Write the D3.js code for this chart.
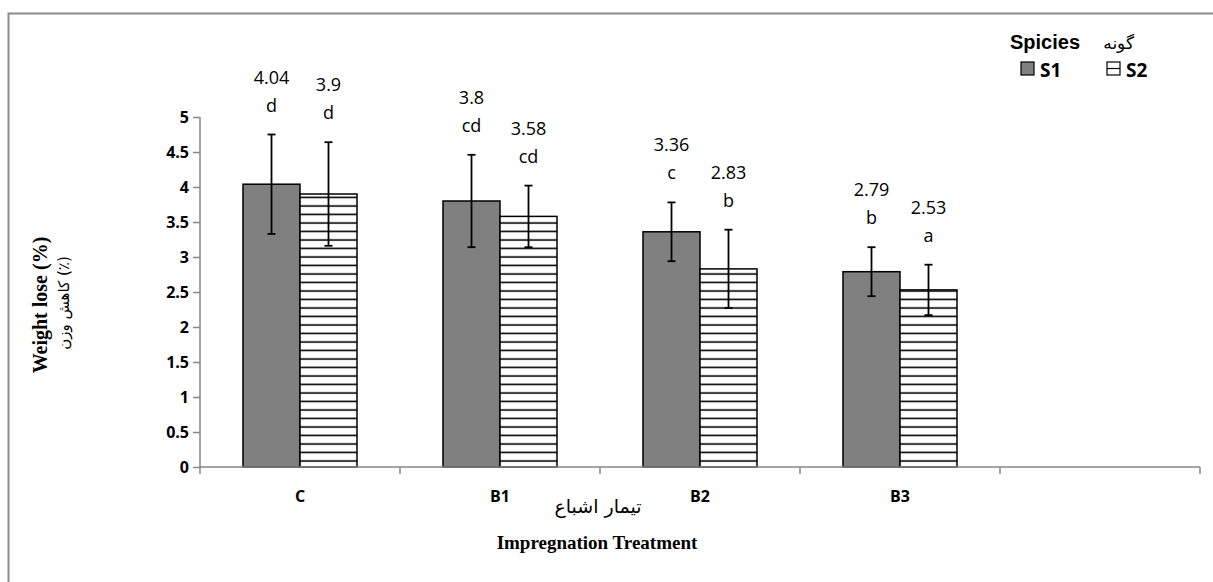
<!DOCTYPE html>
<html>
<head>
<meta charset="utf-8">
<script src="https://cdn.jsdelivr.net/npm/d3@7"></script>
<style>
  body { margin: 0; background: #fff; }
  svg { display: block; }
</style>
</head>
<body>
<div id="chart"></div>
<script>
var categories = ["C", "B1", "B2", "B3", ""];
var seriesNames = ["S1", "S2"];
var s1Values = [4.04, 3.8, 3.36, 2.79];
var s2Values = [3.9, 3.58, 2.83, 2.53];
var s1Errors = [0.71, 0.66, 0.42, 0.35];
var s2Errors = [0.74, 0.44, 0.56, 0.36];
var s1Letters = ["d", "cd", "c", "b"];
var s2Letters = ["d", "cd", "b", "a"];
var yTicks = [0, 0.5, 1, 1.5, 2, 2.5, 3, 3.5, 4, 4.5, 5];

var W = 1213, H = 582;
var margin = {top: 117, right: 13, bottom: 115, left: 200};
var width = W - margin.left - margin.right;
var height = H - margin.top - margin.bottom;

var svg = d3.select("#chart").append("svg")
    .attr("width", W)
    .attr("height", H);

// pattern for S2 (horizontal stripes)
var defs = svg.append("defs");
var pat = defs.append("pattern")
    .attr("id", "hstripe")
    .attr("patternUnits", "userSpaceOnUse")
    .attr("width", 10)
    .attr("height", 8.5);
pat.append("rect").attr("width", 10).attr("height", 8.5).attr("fill", "#fff");
pat.append("line")
    .attr("x1", 0).attr("x2", 10)
    .attr("y1", 4).attr("y2", 4)
    .attr("stroke", "#000")
    .attr("stroke-width", 1.6);

// outer frame
svg.append("rect")
    .attr("x", 8.5).attr("y", 13.5)
    .attr("width", 1400).attr("height", 800)
    .attr("fill", "none")
    .attr("stroke", "#8c8c8c")
    .attr("stroke-width", 2);

var g = svg.append("g")
    .attr("transform", "translate(" + margin.left + "," + margin.top + ")");

var x0 = d3.scaleBand()
    .domain(categories)
    .range([0, 1000])
    .padding(0);

var groupW = x0.bandwidth() * 0.57;
var x1 = d3.scaleBand()
    .domain(seriesNames)
    .range([(x0.bandwidth() - groupW) / 2, (x0.bandwidth() + groupW) / 2])
    .padding(0);

var y = d3.scaleLinear()
    .domain([0, 5])
    .range([height, 0]);

var rows = [];
categories.slice(0, 4).forEach(function(c, i) {
    rows.push({cat: c, s: "S1", v: s1Values[i], e: s1Errors[i], l: s1Letters[i]});
    rows.push({cat: c, s: "S2", v: s2Values[i], e: s2Errors[i], l: s2Letters[i]});
});

// y axis
var axisY = d3.axisLeft(y)
    .tickValues(yTicks)
    .tickSize(7)
    .tickPadding(4)
    .tickFormat(function(d) { return String(d); });
var gy = g.append("g").attr("class", "axis axis--y").call(axisY);
gy.select(".domain").attr("stroke", "#868686").attr("stroke-width", 1.5)
    .attr("d", "M0," + y(5) + "V" + y(0));
gy.selectAll(".tick line").attr("stroke", "#868686").attr("stroke-width", 1.5);
gy.selectAll(".tick text")
    .style("font-family", "'Open Sans', sans-serif")
    .style("font-weight", "bold")
    .style("font-size", "16px")
    .attr("fill", "#000");

// bars
g.selectAll(".bar")
    .data(rows)
  .enter().append("rect")
    .attr("class", "bar")
    .attr("x", function(d) { return x0(d.cat) + x1(d.s); })
    .attr("y", function(d) { return y(d.v); })
    .attr("width", x1.bandwidth())
    .attr("height", function(d) { return y(0) - y(d.v); })
    .attr("fill", function(d) { return d.s == "S1" ? "#808080" : "url(#hstripe)"; })
    .attr("stroke", "#000")
    .attr("stroke-width", 1.5);

// x axis
var gx = g.append("g").attr("class", "axis axis--x")
    .attr("transform", "translate(0," + height + ")");
gx.append("line")
    .attr("x1", 0).attr("x2", 1000)
    .attr("stroke", "#868686").attr("stroke-width", 1.5);
gx.selectAll(".xtick")
    .data(d3.range(categories.length + 1))
  .enter().append("line")
    .attr("class", "xtick")
    .attr("x1", function(i) { return i * x0.step(); })
    .attr("x2", function(i) { return i * x0.step(); })
    .attr("y1", 0).attr("y2", 7)
    .attr("stroke", "#868686").attr("stroke-width", 1.5);
gx.selectAll(".xlabel")
    .data(categories)
  .enter().append("text")
    .attr("class", "xlabel")
    .attr("x", function(d) { return x0(d) + x0.bandwidth() / 2; })
    .attr("y", 35)
    .attr("text-anchor", "middle")
    .style("font-family", "'Open Sans', sans-serif")
    .style("font-weight", "bold")
    .style("font-size", "16px")
    .text(function(d) { return d; });

// error bars
var err = g.selectAll(".err")
    .data(rows)
  .enter().append("g")
    .attr("class", "err")
    .attr("transform", function(d) { return "translate(" + (x0(d.cat) + x1(d.s) + x1.bandwidth() / 2) + ",0)"; });
err.append("line")
    .attr("y1", function(d) { return y(d.v + d.e); })
    .attr("y2", function(d) { return y(d.v - d.e); })
    .attr("stroke", "#000").attr("stroke-width", 1.8);
err.append("line")
    .attr("x1", -4).attr("x2", 4)
    .attr("y1", function(d) { return y(d.v + d.e); })
    .attr("y2", function(d) { return y(d.v + d.e); })
    .attr("stroke", "#000").attr("stroke-width", 1.8);
err.append("line")
    .attr("x1", -4).attr("x2", 4)
    .attr("y1", function(d) { return y(d.v - d.e); })
    .attr("y2", function(d) { return y(d.v - d.e); })
    .attr("stroke", "#000").attr("stroke-width", 1.8);

// value + letter labels
err.append("text")
    .attr("y", function(d) { return y(d.v + d.e) - 23; })
    .attr("text-anchor", "middle")
    .style("font-family", "'Open Sans', sans-serif")
    .style("font-size", "18px")
    .text(function(d) { return d.l; });
err.append("text")
    .attr("y", function(d) { return y(d.v + d.e) - 51; })
    .attr("text-anchor", "middle")
    .style("font-family", "'Open Sans', sans-serif")
    .style("font-size", "18px")
    .text(function(d) { return d.v; });

// axis titles
svg.append("text")
    .attr("transform", "translate(47,305) rotate(-90)")
    .attr("text-anchor", "middle")
    .style("font-family", "'Liberation Serif', serif")
    .style("font-weight", "bold")
    .style("font-size", "20px")
    .text("Weight lose (%)");
svg.append("text")
    .attr("transform", "translate(69,303) rotate(-90)")
    .attr("text-anchor", "middle")
    .style("font-family", "'DejaVu Sans', sans-serif")
    .style("font-size", "15px")
    .text("کاهش وزن (٪)");

svg.append("text")
    .attr("x", 598).attr("y", 513)
    .attr("text-anchor", "middle")
    .style("font-family", "'DejaVu Sans', sans-serif")
    .style("font-size", "19px")
    .text("تیمار اشباع");
svg.append("text")
    .attr("x", 597).attr("y", 549)
    .attr("text-anchor", "middle")
    .style("font-family", "'Liberation Serif', serif")
    .style("font-weight", "bold")
    .style("font-size", "19px")
    .text("Impregnation Treatment");

// legend
var lg = svg.append("g").attr("class", "legend");
lg.append("text")
    .attr("x", 1010).attr("y", 49)
    .style("font-family", "'Liberation Sans', sans-serif")
    .style("font-weight", "bold")
    .style("font-size", "20px")
    .text("Spicies");
lg.append("text")
    .attr("x", 1134).attr("y", 49)
    .attr("text-anchor", "end")
    .style("font-family", "'DejaVu Sans', sans-serif")
    .style("font-size", "17px")
    .text("گونه");
var lx = [1021, 1107];
seriesNames.forEach(function(s, i) {
    lg.append("rect")
        .attr("x", lx[i]).attr("y", 62)
        .attr("width", 13).attr("height", 13)
        .attr("fill", i == 0 ? "#808080" : "#fff")
        .attr("stroke", "#000").attr("stroke-width", 1.2);
    if (i == 1) {
        lg.append("line").attr("x1", lx[i]).attr("x2", lx[i] + 13)
            .attr("y1", 68.5).attr("y2", 68.5)
            .attr("stroke", "#000").attr("stroke-width", 1.2);
    }
    lg.append("text")
        .attr("x", lx[i] + 19).attr("y", 77)
        .style("font-family", "'Open Sans', sans-serif")
        .style("font-weight", "bold")
        .style("font-size", "19px")
        .text(s);
});
</script>
</body>
</html>
